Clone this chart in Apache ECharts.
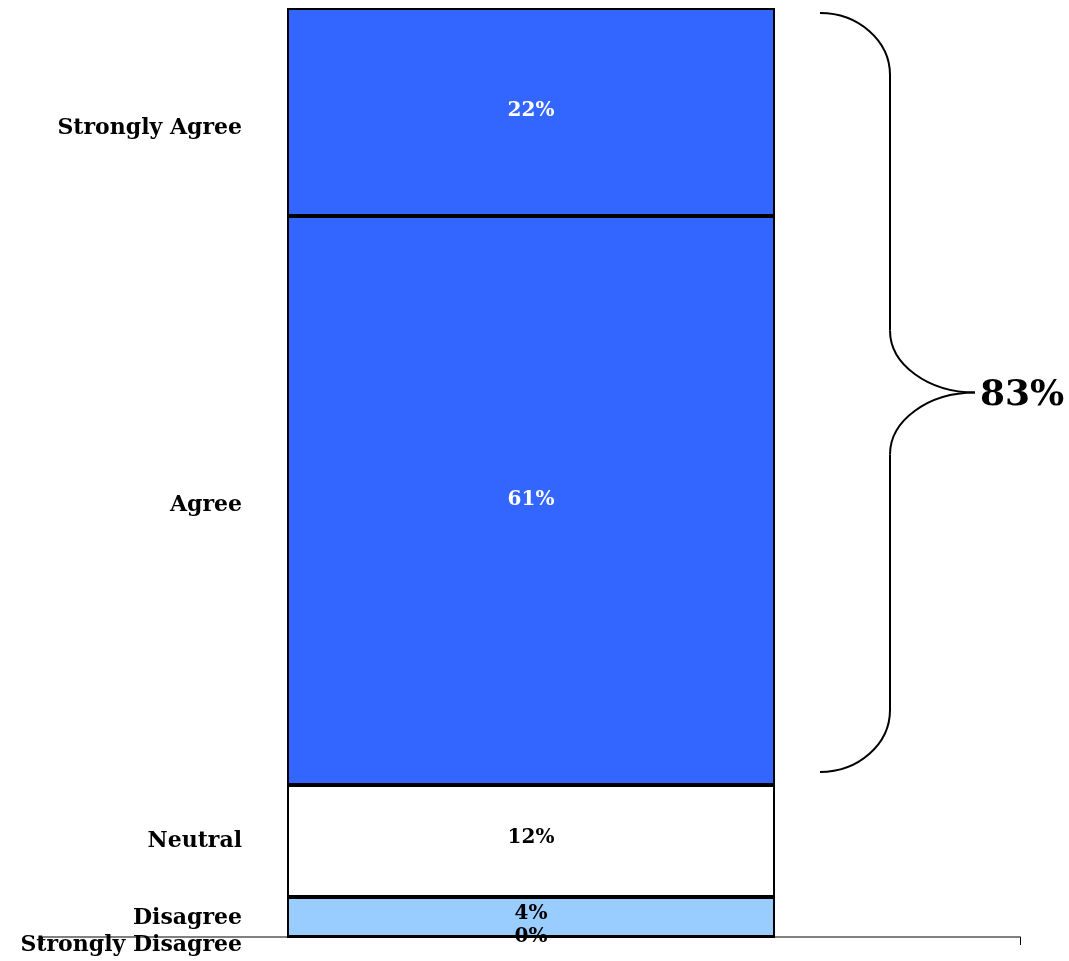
<!DOCTYPE html>
<html><head><meta charset="utf-8">
<script src="https://cdn.jsdelivr.net/npm/echarts@6/dist/echarts.min.js"></script>
<style>html,body{margin:0;padding:0;background:#fff}#c{width:1069px;height:961px}</style>
</head><body><div id="c"></div>
<script>
// Bottom to top stacking order
var categories = ['Strongly Disagree', 'Disagree', 'Neutral', 'Agree', 'Strongly Agree'];
var values = [0, 4.3, 12.0, 61.0, 22.3];
var colors = ['#99CCFF', '#99CCFF', '#FFFFFF', '#3366FF', '#3366FF'];
var valueLabelColors = ['#000', '#000', '#000', '#fff', '#fff'];
var catOffsets = [8, 1, 0, 5, 16];
var valOffsets = [0, -3, -3, -1, -1];
var braceGroup = ['Agree', 'Strongly Agree'];

var FONT = '"DejaVu Serif", serif';
var total = values.reduce(function (a, b) { return a + b; }, 0);
var barW = 488;

var series = [];
categories.forEach(function (name, i) {
  series.push({
    name: name, type: 'bar', stack: 'v', xAxisIndex: 0, barWidth: barW,
    data: [values[i]],
    itemStyle: { color: colors[i], borderColor: '#000', borderWidth: 2 },
    label: {
      show: true, position: 'inside', offset: [0, valOffsets[i]],
      formatter: function (p) { return Math.round(p.value) + '%'; },
      color: valueLabelColors[i], fontFamily: FONT, fontWeight: 'bold', fontSize: 20
    },
    silent: true, animation: false
  });
});
categories.forEach(function (name, i) {
  series.push({
    name: name + ' ', type: 'bar', stack: 'c', xAxisIndex: 1, barWidth: barW,
    data: [values[i]],
    itemStyle: { color: 'rgba(0,0,0,0)', borderWidth: 0 },
    label: {
      show: true, position: 'left', distance: 45, offset: [0, catOffsets[i]],
      formatter: name, color: '#000', fontFamily: FONT, fontWeight: 'bold', fontSize: 22
    },
    z: 5, silent: true, animation: false
  });
});

var chart = echarts.init(document.getElementById('c'), null, { renderer: 'canvas' });
chart.setOption({
  animation: false,
  backgroundColor: '#fff',
  grid: { left: 42, right: 49, top: 8, bottom: 24 },
  xAxis: [
    { type: 'category', data: [''], axisLine: { lineStyle: { color: '#808080', width: 2 } },
      axisTick: { show: true, length: 8, lineStyle: { color: '#000' } }, axisLabel: { show: false } },
    { type: 'category', data: [''], show: false, position: 'bottom' }
  ],
  yAxis: { type: 'value', min: 0, max: total, show: false, splitLine: { show: false } },
  series: series
});

// Brace over the grouped segments
var groupSum = 0;
braceGroup.forEach(function (n) { groupSum += values[categories.indexOf(n)]; });
var yTop = chart.convertToPixel({ yAxisIndex: 0 }, total);
var yBot = chart.convertToPixel({ yAxisIndex: 0 }, total - groupSum);
var xc = chart.convertToPixel({ xAxisIndex: 0 }, 0);
var xr = xc + barW / 2;
var t = yTop + 5, b = yBot - 13, m = (t + b) / 2;
var x0 = xr + 45, x1 = xr + 115, x2 = xr + 200;
var R = 62, k = 0.55;
var st = { fill: 'none', stroke: '#000', lineWidth: 2 };
function bz(a, b1, c1, c2, c3, c4, c5, c6) {
  return { type: 'bezierCurve', silent: true, style: st,
    shape: { x1: a, y1: b1, cpx1: c1, cpy1: c2, cpx2: c3, cpy2: c4, x2: c5, y2: c6 } };
}
var hw = x1 - x0, hw2 = x2 - x1;
chart.setOption({
  graphic: [
    bz(x0, t, x0 + k * hw, t, x1, t + R - k * R, x1, t + R),
    { type: 'line', silent: true, style: st, shape: { x1: x1, y1: t + R, x2: x1, y2: m - R } },
    bz(x1, m - R, x1, m - R + k * R, x2 - k * hw2, m, x2, m),
    bz(x2, m, x2 - k * hw2, m, x1, m + R - k * R, x1, m + R),
    { type: 'line', silent: true, style: st, shape: { x1: x1, y1: m + R, x2: x1, y2: b - R } },
    bz(x1, b - R, x1, b - R + k * R, x0 + k * hw, b, x0, b),
    { type: 'text', x: x2 + 5, y: m + 3, silent: true,
      style: { text: Math.round(groupSum) + '%', fill: '#000', font: 'bold 36px ' + FONT, textVerticalAlign: 'middle', textAlign: 'left' } }
  ]
});
</script></body></html>
